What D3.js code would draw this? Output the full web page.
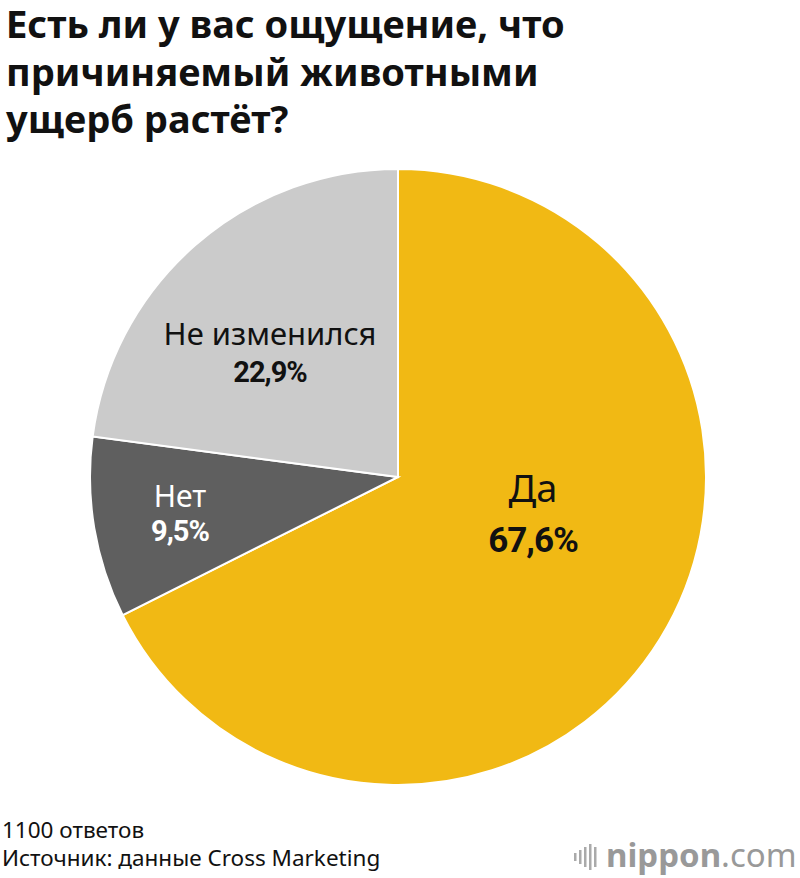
<!DOCTYPE html>
<html><head><meta charset="utf-8">
<script src="https://cdn.jsdelivr.net/npm/d3@7/dist/d3.min.js"></script>
<style>body{margin:0;background:#fff}</style></head>
<body><svg id="c" width="800" height="878"></svg>
<script>
const categories = ["Да","Нет","Не изменился"];
const values = [67.6, 9.5, 22.9];
const valueLabels = ["67,6%","9,5%","22,9%"];
const colors = ["#f1b914","#5f5f5f","#cbcbcb"];
const titleLines = ["Есть ли у вас ощущение, что","причиняемый животными","ущерб растёт?"];

const svg = d3.select("#c");
const font = "'Noto Sans', sans-serif";
svg.selectAll("text.t").data(titleLines).join("text")
  .attr("x",6).attr("y",(d,i)=>38+i*47.5)
  .attr("font-family",font).attr("font-weight","bold").attr("font-size",38)
  .attr("letter-spacing",0).attr("fill","#111").text(d=>d);

const cx=398, cy=477, r=308;
const g = svg.append("g").attr("transform",`translate(${cx},${cy})`);
const pie = d3.pie().sort(null).value(d=>d)(values);
const arc = d3.arc().innerRadius(0).outerRadius(r);
g.selectAll("path").data(pie).join("path").attr("d",arc)
  .attr("fill",(d,i)=>colors[i]).attr("stroke","#fff").attr("stroke-width",2);

const lab = [
  {x:533,y:502,y2:552,fs:38,fs2:35,c:"#111"},
  {x:180,y:507,y2:541,fs:30,fs2:29,c:"#fff"},
  {x:270,y:345,y2:382,fs:31,fs2:29,c:"#111"}
];
lab.forEach((l,i)=>{
  svg.append("text").attr("x",l.x).attr("y",l.y).attr("text-anchor","middle")
    .attr("font-family",font).attr("font-size",l.fs).attr("fill",l.c).text(categories[i]);
  svg.append("text").attr("x",l.x).attr("y",l.y2).attr("text-anchor","middle")
    .attr("font-family","Roboto, sans-serif").attr("font-weight","bold").attr("font-size",l.fs2)
    .attr("letter-spacing",-1).attr("fill",l.c).text(valueLabels[i]);
});

svg.append("text").attr("x",2).attr("y",838).attr("font-family",font).attr("font-size",22.5).attr("fill","#111").text("1100 ответов");
svg.append("text").attr("x",2).attr("y",866).attr("font-family",font).attr("font-size",22.5).attr("fill","#111").text("Источник: данные Cross Marketing");

// logo
const lg = svg.append("g").attr("fill","#aaa");
[[574,8],[579,14],[584,20],[589,26],[594,20]].forEach(([x,h])=>{
  lg.append("rect").attr("x",x).attr("y",857-h/2).attr("width",2.5).attr("height",h);
});
svg.append("text").attr("x",606).attr("y",867).attr("font-family",font).attr("font-size",33)
  .attr("fill","#999").attr("font-weight","bold").text("nippon")
  .append("tspan").attr("font-weight","normal").text(".com");
</script></body></html>
